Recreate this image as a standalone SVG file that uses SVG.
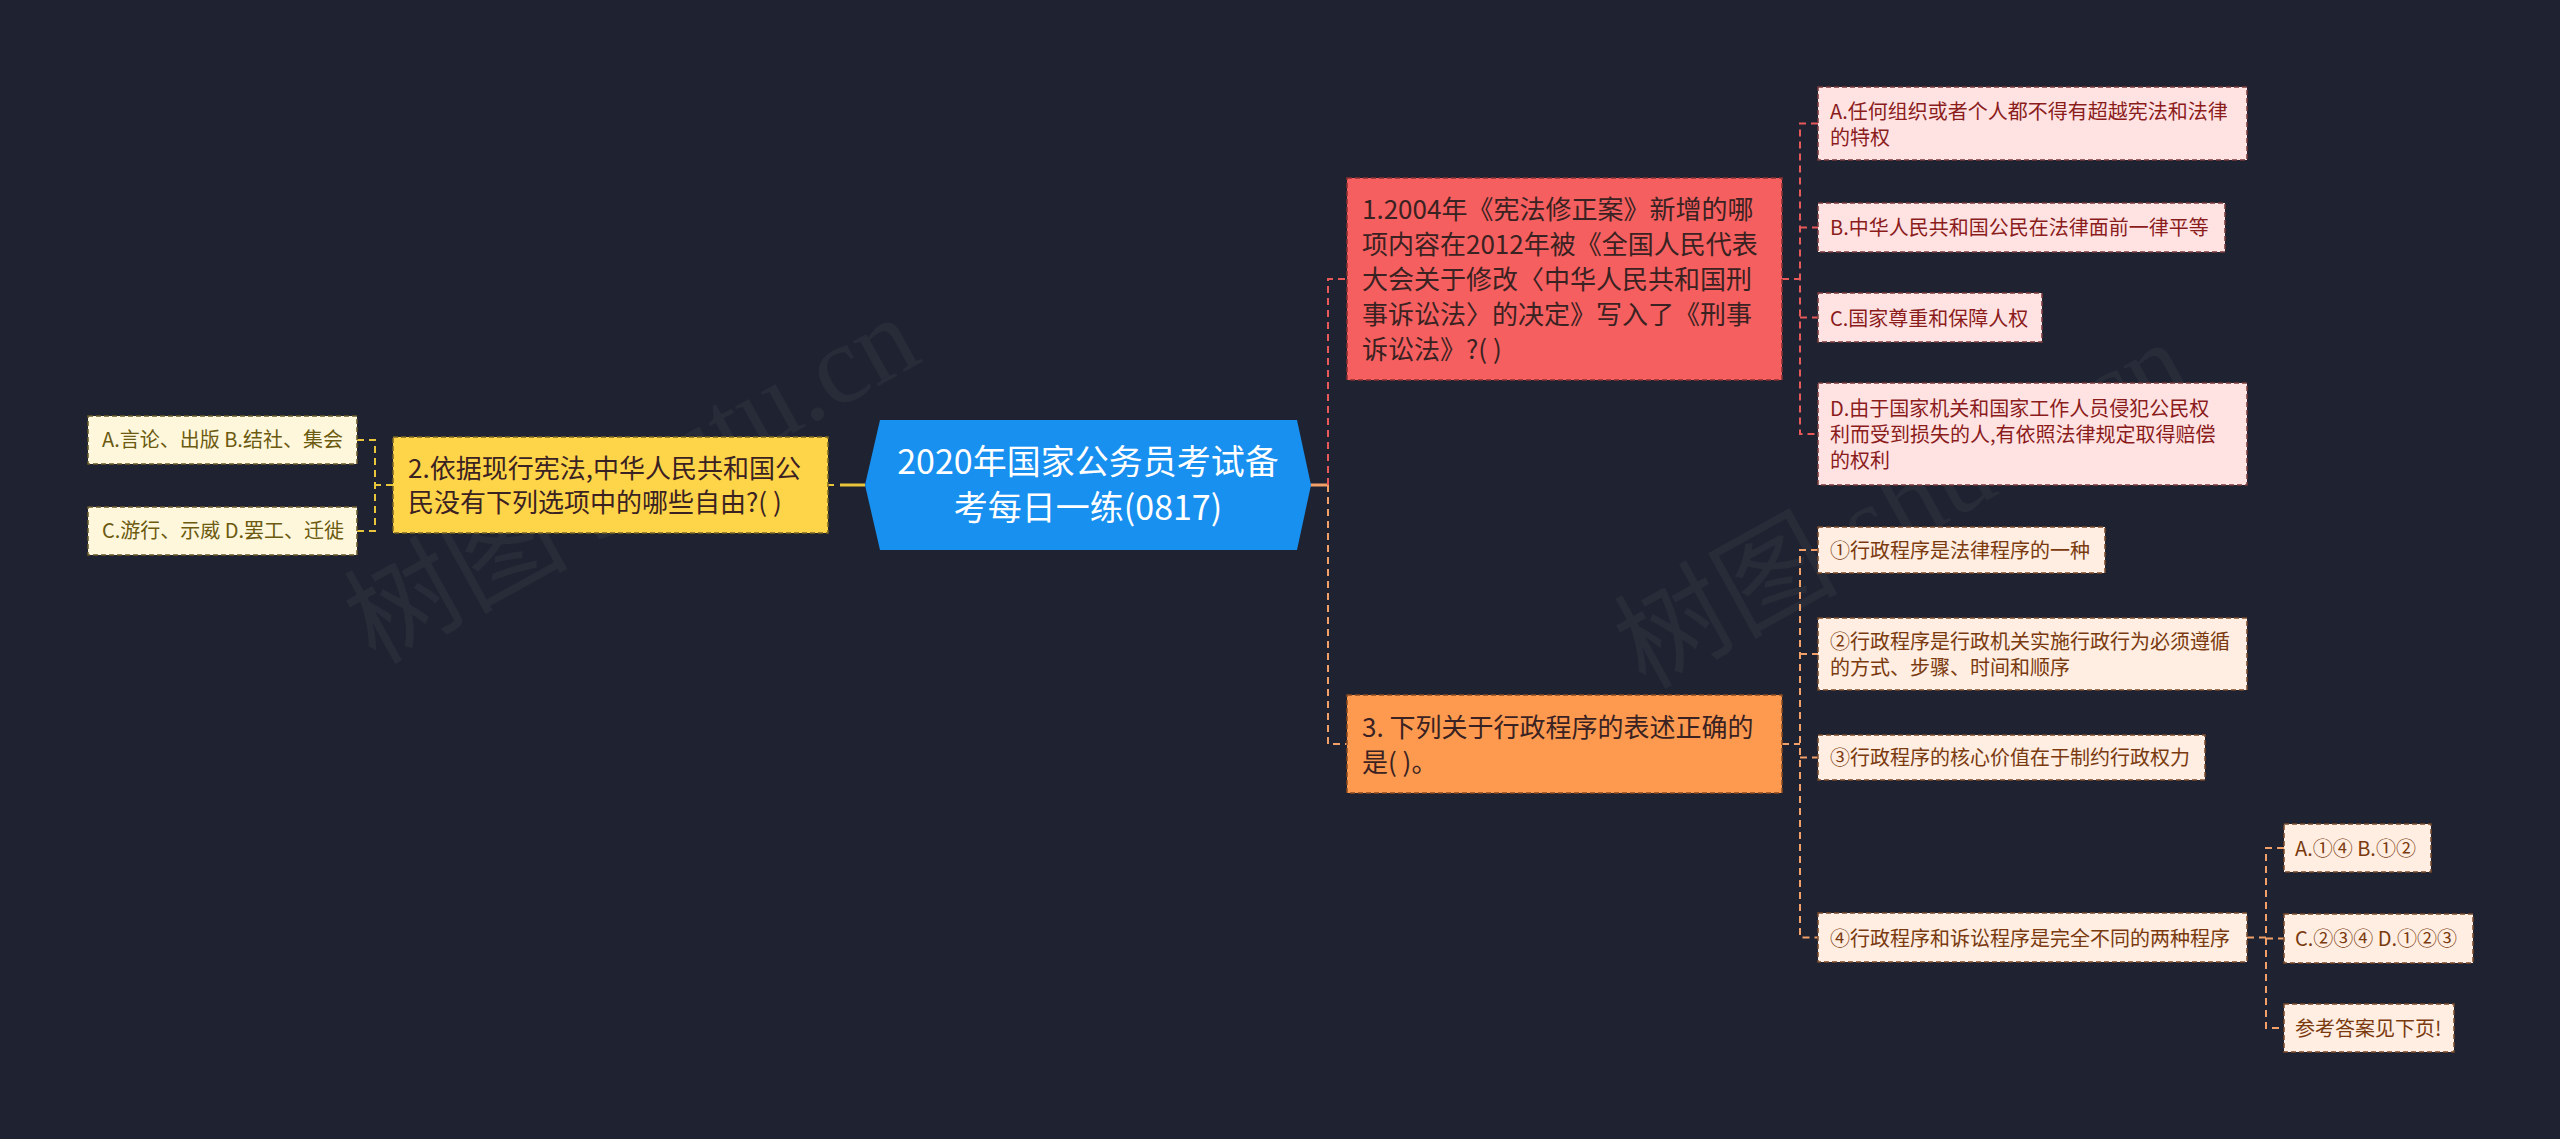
<svg xmlns="http://www.w3.org/2000/svg" width="2560" height="1139" viewBox="0 0 2560 1139">
<style>
text{font-family:"Noto Sans CJK SC","Noto Sans",sans-serif;}
.c{fill:none;stroke-width:2;stroke-dasharray:7 5;}
.red{stroke:#E85A5A;}
.ora{stroke:#F2A06A;}
.yel{stroke:#E8C53A;}
.n1{fill:#F55F5F;stroke:#8A3030;stroke-width:1.5;stroke-dasharray:5 3;}
.n2{fill:#FED449;stroke:#7A6420;stroke-width:1.5;stroke-dasharray:5 3;}
.n3{fill:#FD9A50;stroke:#8A4A20;stroke-width:1.5;stroke-dasharray:5 3;}
.t26{font-size:26px;fill:#3A2222;}
.l1{fill:#FFE3E3;stroke:#7A3A3A;stroke-width:1.5;stroke-dasharray:5 3;}
.l3{fill:#FFEEE1;stroke:#7A4A2A;stroke-width:1.5;stroke-dasharray:5 3;}
.l2{fill:#FFF7DC;stroke:#6A5A2A;stroke-width:1.5;stroke-dasharray:5 3;}
.tl1{font-size:20px;fill:#8B1C1C;}
.tl3{font-size:20px;fill:#7A3A10;}
.tl2{font-size:20px;fill:#6B5A10;}
.wm{font-family:"Liberation Serif","Noto Sans CJK SC",serif;font-size:112px;fill:#FFFFFF;fill-opacity:0.045;}
</style>
<rect width="2560" height="1139" fill="#1F2230"/>
<g id="watermarks">
<text class="wm" transform="translate(375,665) rotate(-29)">树图 shutu.cn</text>
<text class="wm" transform="translate(1645,690) rotate(-29)">树图 shutu.cn</text>
</g>
<g id="connectors">
<line x1="828" y1="485" x2="834" y2="485" stroke="#E8C53A" stroke-width="2"/>
<line x1="840" y1="485" x2="865" y2="485" stroke="#E8C53A" stroke-width="3"/>
<path class="c yel" d="M393 485 H375"/>
<path class="c yel" d="M357 440 H375 V531 H357"/>
<path d="M1310 485 H1328" stroke="#F2A06A" stroke-width="3" fill="none"/>
<path class="c red" d="M1328 485 V279 H1347"/>
<path class="c ora" d="M1328 485 V744 H1347"/>
<path class="c red" d="M1782 279 H1800"/>
<path class="c red" d="M1818 123.5 H1800 V434 H1818"/>
<path class="c red" d="M1800 227.5 H1818"/>
<path class="c red" d="M1800 317.5 H1818"/>
<path class="c ora" d="M1782 744 H1800"/>
<path class="c ora" d="M1818 550 H1800 V937.5 H1818"/>
<path class="c ora" d="M1800 654 H1818"/>
<path class="c ora" d="M1800 757.5 H1818"/>
<path class="c ora" d="M2247 937.5 H2266"/>
<path class="c ora" d="M2284 848 H2266 V1028 H2284"/>
<path class="c ora" d="M2266 938.5 H2284"/>
</g>
<g id="root">
<polygon points="865,485 880,420 1297,420 1311,485 1297,550 880,550" fill="#1890F0"/>
<text x="1088" y="474" text-anchor="middle" font-size="34" fill="#FFFFFF">2020年国家公务员考试备</text>
<text x="1088" y="520" text-anchor="middle" font-size="34" fill="#FFFFFF">考每日一练(0817)</text>
</g>
<g id="q2">
<rect class="n2" x="393" y="437" width="435" height="96"/>
<text class="t26" x="408" y="478" fill="#3A3010">2.依据现行宪法,中华人民共和国公</text>
<text class="t26" x="408" y="512">民没有下列选项中的哪些自由?( )</text>
</g>
<g id="q2a">
<rect class="l2" x="88" y="416" width="269" height="48"/>
<text class="tl2" x="102" y="447">A.言论、出版 B.结社、集会</text>
</g>
<g id="q2b">
<rect class="l2" x="88" y="507" width="269" height="48"/>
<text class="tl2" x="102" y="538">C.游行、示威 D.罢工、迁徙</text>
</g>
<g id="q1">
<rect class="n1" x="1347" y="178" width="435" height="202"/>
<text class="t26" x="1362" y="219">1.2004年《宪法修正案》新增的哪</text>
<text class="t26" x="1362" y="254">项内容在2012年被《全国人民代表</text>
<text class="t26" x="1362" y="289">大会关于修改〈中华人民共和国刑</text>
<text class="t26" x="1362" y="324">事诉讼法〉的决定》写入了《刑事</text>
<text class="t26" x="1362" y="359">诉讼法》?( )</text>
</g>
<g id="q1a">
<rect class="l1" x="1818" y="87" width="429" height="73"/>
<text class="tl1" x="1830" y="119">A.任何组织或者个人都不得有超越宪法和法律</text>
<text class="tl1" x="1830" y="145">的特权</text>
</g>
<g id="q1b">
<rect class="l1" x="1818" y="203" width="407" height="49"/>
<text class="tl1" x="1830" y="235">B.中华人民共和国公民在法律面前一律平等</text>
</g>
<g id="q1c">
<rect class="l1" x="1818" y="293" width="224" height="49"/>
<text class="tl1" x="1830" y="326">C.国家尊重和保障人权</text>
</g>
<g id="q1d">
<rect class="l1" x="1818" y="383" width="429" height="102"/>
<text class="tl1" x="1830" y="416">D.由于国家机关和国家工作人员侵犯公民权</text>
<text class="tl1" x="1830" y="442">利而受到损失的人,有依照法律规定取得赔偿</text>
<text class="tl1" x="1830" y="468">的权利</text>
</g>
<g id="q3">
<rect class="n3" x="1347" y="695" width="435" height="98"/>
<text class="t26" x="1362" y="737">3. 下列关于行政程序的表述正确的</text>
<text class="t26" x="1362" y="772">是( )。</text>
</g>
<g id="q3a">
<rect class="l3" x="1818" y="527" width="287" height="46"/>
<text class="tl3" x="1830" y="558">①行政程序是法律程序的一种</text>
</g>
<g id="q3b">
<rect class="l3" x="1818" y="618" width="429" height="72"/>
<text class="tl3" x="1830" y="649">②行政程序是行政机关实施行政行为必须遵循</text>
<text class="tl3" x="1830" y="675">的方式、步骤、时间和顺序</text>
</g>
<g id="q3c">
<rect class="l3" x="1818" y="735" width="387" height="45"/>
<text class="tl3" x="1830" y="765">③行政程序的核心价值在于制约行政权力</text>
</g>
<g id="q3d">
<rect class="l3" x="1818" y="913" width="429" height="49"/>
<text class="tl3" x="1830" y="946">④行政程序和诉讼程序是完全不同的两种程序</text>
</g>
<g id="q3d1">
<rect class="l3" x="2284" y="824" width="147" height="48"/>
<text class="tl3" x="2295" y="856">A.①④ B.①②</text>
</g>
<g id="q3d2">
<rect class="l3" x="2284" y="914" width="189" height="49"/>
<text class="tl3" x="2295" y="946">C.②③④ D.①②③</text>
</g>
<g id="q3d3">
<rect class="l3" x="2284" y="1004" width="170" height="48"/>
<text class="tl3" x="2295" y="1036">参考答案见下页!</text>
</g>
</svg>
